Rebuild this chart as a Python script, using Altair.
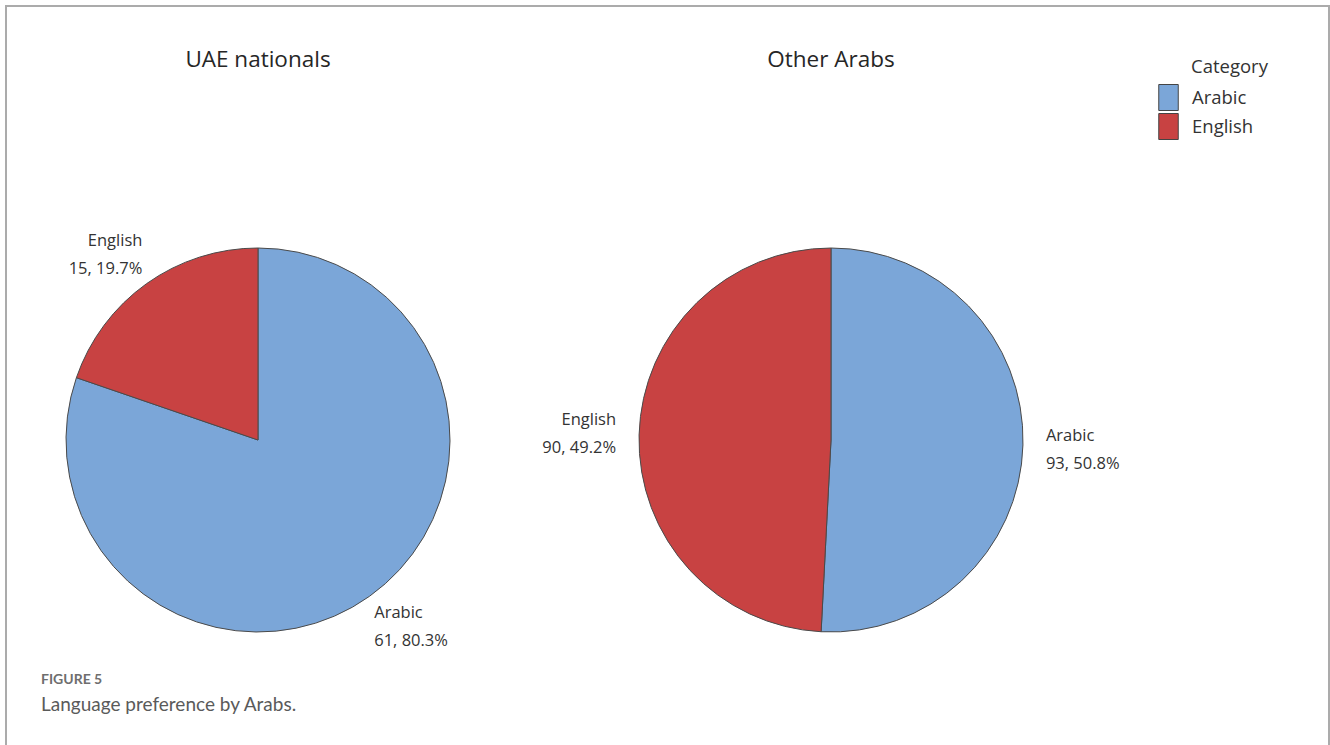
import altair as alt
import pandas as pd

groups = ["UAE nationals", "Other Arabs"]
categories = ["Arabic", "English"]
uae_counts = [61, 15]
other_counts = [93, 90]
colors = ["#7BA6D8", "#C84242"]
caption_head = "FIGURE 5"
caption_text = "Language preference by Arabs."
legend_title = "Category"

rows = []
for g, counts in zip(groups, [uae_counts, other_counts]):
    total = sum(counts)
    for i, (c, n) in enumerate(zip(categories, counts)):
        rows.append({
            "group": g,
            "category": c,
            "count": n,
            "order": i,
            "label": f"{c}\n{n}, {100 * n / total:.1f}%",
        })
df = pd.DataFrame(rows)

FONT = "Open Sans"

base = (
    alt.Chart(df)
    .transform_joinaggregate(total="sum(count)", groupby=["group"])
    .transform_window(cum="sum(count)", groupby=["group"], sort=[alt.SortField("order")])
    .transform_calculate(
        start="(datum.cum - datum.count) / datum.total",
        end="datum.cum / datum.total",
        mid="(datum.cum - datum.count / 2) / datum.total",
    )
)

xscale = alt.Scale(type="point", domain=groups, range=[252, 825], padding=0)
X = alt.X("group:N", scale=xscale, axis=None)
Y = alt.value(434)
tscale = alt.Scale(domain=[0, 1], range=[0, 6.283185307])

arcs = base.mark_arc(outerRadius=192, stroke="#4a4a4a", strokeWidth=1).encode(
    x=X,
    y=Y,
    theta=alt.Theta("start:Q", scale=tscale, stack=False),
    theta2="end:Q",
    color=alt.Color(
        "category:N",
        scale=alt.Scale(domain=categories, range=colors),
        legend=alt.Legend(
            orient="none",
            legendX=1149,
            legendY=78,
            title=None,
            symbolType="M-0.75,-1H0.75V1H-0.75Z",
            symbolSize=676,
            symbolStrokeColor="#444",
            symbolStrokeWidth=1,
            symbolOpacity=1,
            labelFontSize=18.5,
            labelFont=FONT,
            labelColor="#333",
            labelOffset=10,
            rowPadding=-4,
        ),
    ),
)

# label placement regions: (filter, align, radius, dy)
regions = [
    ("(datum.mid < 0.125 || datum.mid > 0.875) && datum.mid >= 0.5", "right", 199, -37),
    ("(datum.mid < 0.125 || datum.mid > 0.875) && datum.mid < 0.5", "left", 199, -37),
    ("datum.mid >= 0.375 && datum.mid <= 0.625 && datum.mid >= 0.5", "right", 200, 10),
    ("datum.mid >= 0.375 && datum.mid <= 0.625 && datum.mid < 0.5", "left", 200, 10),
    ("datum.mid >= 0.625 && datum.mid <= 0.875", "right", 215, -14),
    ("datum.mid >= 0.125 && datum.mid < 0.375", "left", 215, -10),
]
label_layers = []
for flt, align, rad, dy in regions:
    label_layers.append(
        base.transform_filter(flt)
        .mark_text(align=align, radius=rad, dy=dy, fontSize=16.5, font=FONT, color="#333",
                   lineBreak="\n", lineHeight=28, baseline="middle")
        .encode(x=X, y=Y, theta=alt.Theta("mid:Q", scale=tscale, stack=False), text="label:N")
    )

titles = alt.Chart(pd.DataFrame({"group": groups})).mark_text(
    fontSize=22.5, font=FONT, color="#262626", baseline="middle"
).encode(x=X, y=alt.value(54), text="group:N")

cat_title = alt.Chart(pd.DataFrame({"t": [legend_title]})).mark_text(
    fontSize=18.5, font=FONT, color="#333", align="left", baseline="middle"
).encode(x=alt.value(1185), y=alt.value(61), text="t:N")

cap1 = alt.Chart(pd.DataFrame({"t": [caption_head]})).mark_text(
    fontSize=14, font="Lato", fontWeight="bold", color="#6e6e6e", align="left", baseline="middle"
).encode(x=alt.value(35), y=alt.value(674), text="t:N")

cap2 = alt.Chart(pd.DataFrame({"t": [caption_text]})).mark_text(
    fontSize=19, font="Lato", color="#5a5a5a", align="left", baseline="middle"
).encode(x=alt.value(35), y=alt.value(699), text="t:N")

chart = (
    alt.layer(arcs, *label_layers, titles, cat_title, cap1, cap2)
    .properties(
        width=1323,
        height=745,
        autosize="none",
        padding={"left": 6, "top": 6, "right": 1, "bottom": 0},
        background="white",
    )
    .configure_view(stroke="#ababab", strokeWidth=2)
)

chart.save("out.html", embed_options={"renderer": "svg", "actions": False})
